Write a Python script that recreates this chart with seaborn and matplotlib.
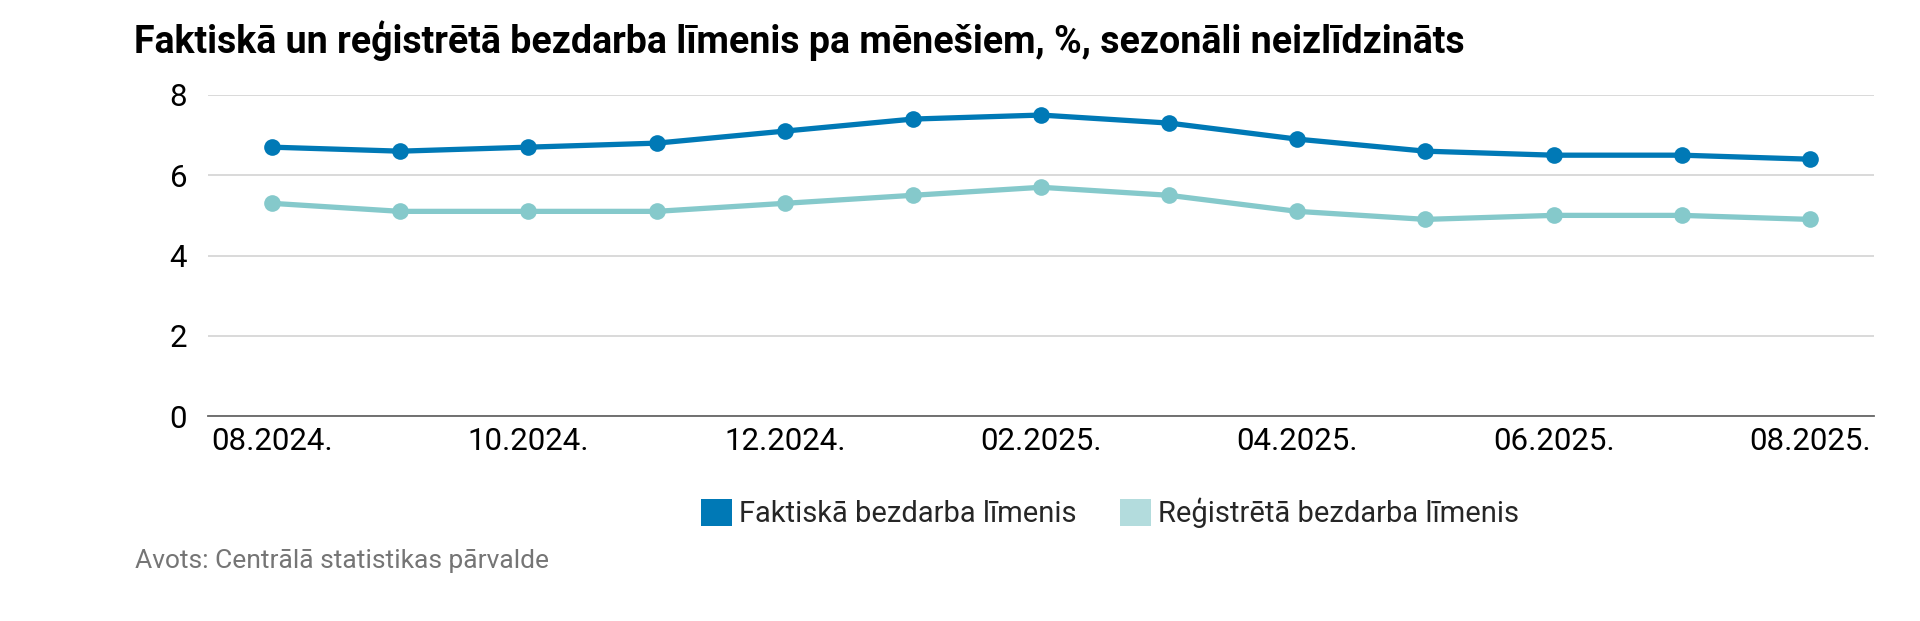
import matplotlib
matplotlib.use("Agg")
import matplotlib.pyplot as plt
import seaborn as sns
import pandas as pd
from matplotlib.patches import Patch

months = ["08.2024.", "09.2024.", "10.2024.", "11.2024.", "12.2024.", "01.2025.",
          "02.2025.", "03.2025.", "04.2025.", "05.2025.", "06.2025.", "07.2025.", "08.2025."]
faktiska = [6.7, 6.6, 6.7, 6.8, 7.1, 7.4, 7.5, 7.3, 6.9, 6.6, 6.5, 6.5, 6.4]
registreta = [5.3, 5.1, 5.1, 5.1, 5.3, 5.5, 5.7, 5.5, 5.1, 4.9, 5.0, 5.0, 4.9]
series_names = ["Faktiskā bezdarba līmenis", "Reģistrētā bezdarba līmenis"]
y_ticks = [0, 2, 4, 6, 8]

title = "Faktiskā un reģistrētā bezdarba līmenis pa mēnešiem, %, sezonāli neizlīdzināts"
source = "Avots: Centrālā statistikas pārvalde"

line_colors = ["#0079B6", "#85C9CB"]
legend_colors = ["#0079B6", "#B3DCDD"]

sns.set_theme(style="white")
plt.rcParams["font.family"] = ["Roboto", "DejaVu Sans"]

df = pd.DataFrame({
    "idx": list(range(len(months))) * 2,
    "value": faktiska + registreta,
    "series": [series_names[0]] * len(months) + [series_names[1]] * len(months),
})

fig = plt.figure(figsize=(19.2, 6.21), dpi=100)
ax = fig.add_axes([208 / 1920, 1 - 416 / 621, (1874 - 208) / 1920, (416 - 95) / 621])

sns.lineplot(data=df, x="idx", y="value", hue="series", palette=line_colors,
             marker="o", markersize=12, markeredgewidth=0, linewidth=3.8,
             legend=False, ax=ax, zorder=3)

ax.set_xlim(-0.5, len(months) - 0.5)
ax.set_ylim(0, 8)
ax.set_yticks(y_ticks)
ax.set_yticklabels([str(v) for v in y_ticks], fontsize=22.5)
tick_pos = list(range(0, len(months), 2))
ax.set_xticks(tick_pos)
ax.set_xticklabels([months[i] for i in tick_pos], fontsize=22.5)
ax.tick_params(axis="y", length=0, pad=15, colors="#000000")
ax.tick_params(axis="x", length=0, pad=8, colors="#000000")
ax.set_xlabel("")
ax.set_ylabel("")
ax.yaxis.grid(True, color="#D3D3D3", linewidth=1.2)
ax.xaxis.grid(False)
for s in ["top", "right", "left"]:
    ax.spines[s].set_visible(False)
ax.spines["bottom"].set_color("#666666")
ax.spines["bottom"].set_linewidth(1.3)
ax.spines["bottom"].set_zorder(2)

fig.text(134 / 1920, 1 - 53 / 621, title, fontsize=27, fontweight="bold",
         color="#000000", ha="left", va="baseline")
fig.text(135 / 1920, 1 - 568 / 621, source, fontsize=19, color="#757575",
         ha="left", va="baseline")

handles = [Patch(facecolor=c, edgecolor="none") for c in legend_colors]
fig.legend(handles, series_names, loc="center", bbox_to_anchor=(1110 / 1920, 1 - 513 / 621),
           ncol=2, frameon=False, fontsize=21, handlelength=1.05, handleheight=1.05,
           handletextpad=0.25, columnspacing=1.5, borderpad=0)

fig.savefig("out.png", dpi=100)
